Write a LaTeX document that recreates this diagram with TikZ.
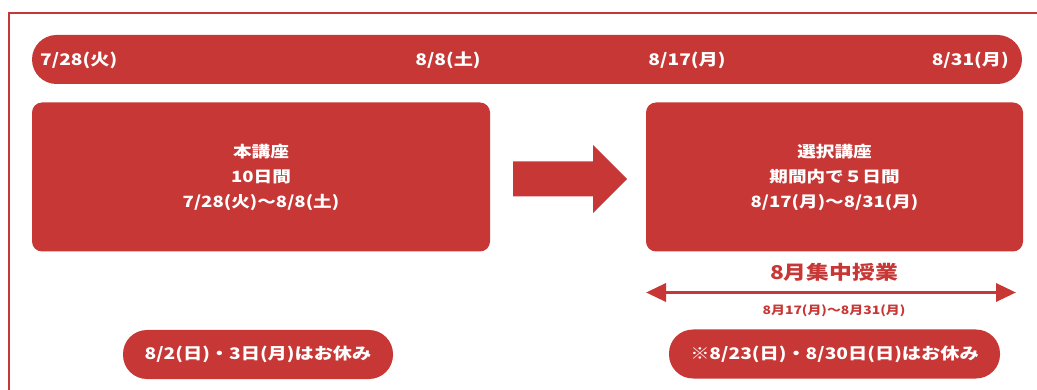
\documentclass[tikz,border=0pt]{standalone}
\usepackage{fontspec}
\setmainfont{Noto Sans CJK JP}[FakeStretch=1.2]
\usetikzlibrary{positioning}
\usetikzlibrary{arrows.meta}
\definecolor{brick}{RGB}{199,55,53}

\begin{document}
\begin{tikzpicture}
    [x=1pt, y=-1pt,
    bar/.style={fill=brick, rounded corners=24.5pt, minimum width=990pt, minimum height=49pt, inner sep=0pt},
    date/.style={text=white, font=\bfseries\fontsize{16}{19}\selectfont, inner sep=0pt},
    course/.style={fill=brick, rounded corners=10pt, minimum height=149pt, inner sep=0pt, text=white, align=center, font=\bfseries\fontsize{15.5}{25}\selectfont},
    holiday/.style={fill=brick, rounded corners=24pt, minimum height=49pt, inner sep=0pt, text=white, font=\bfseries\fontsize{16}{19}\selectfont}]
     %\draw[step=100pt,gray,very thin] (0,0) grid (1037,390);
     \useasboundingbox (0,0) rectangle (1037,390);
     \draw[brick, line width=2pt] (9,396) -- (9,13) -- (1044,13);
     \node[bar] (bar) at (527, 59.5) {};
     \node[date, anchor=west] (d1) at (40, 60)    {7/28(火)};
     \node[date] (d2) at (448, 60)                {8/8(土)};
     \node[date] (d3) at (687, 60)                {8/17(月)};
     \node[date, anchor=east] (d4) at (1009, 60)  {8/31(月)};
     \node[course, minimum width=458pt] (main) at (261, 177)
          {本講座\\10日間\\7/28(火)〜8/8(土)};
     \node[course, minimum width=377pt] (pick) at (834.5, 177)
          {選択講座\\期間内で５日間\\8/17(月)〜8/31(月)};
     \coordinate (go) at (513, 179);
     \fill[brick] (go) ++(0,-17.5) -- ++(80,0) -- ++(0,-16.5) -- ++(34,34)
          -- ++(-34,34) -- ++(0,-16.5) -- ++(-80,0) -- cycle;
     \node[text=brick, font=\bfseries\fontsize{19}{22}\selectfont] (aug) at (834, 272) {8月集中授業};
     \coordinate (s) at (646, 292.5);
     \coordinate (e) at (1016, 292.5);
     \draw[brick, line width=3.5pt, {Triangle[length=20pt,width=18pt]}-{Triangle[length=20pt,width=18pt]}] (s) -- (e);
     \node[text=brick, font=\bfseries\fontsize{11.6}{14}\selectfont] (span) at (834, 311) {8月17(月)〜8月31(月)};
     \node[holiday, minimum width=270pt] (off1) at (258, 354.5) {8/2(日)・3日(月)はお休み};
     \node[holiday, minimum width=331pt] (off2) at (834.5, 354) {※8/23(日)・8/30日(日)はお休み};
\end{tikzpicture}
\end{document}
